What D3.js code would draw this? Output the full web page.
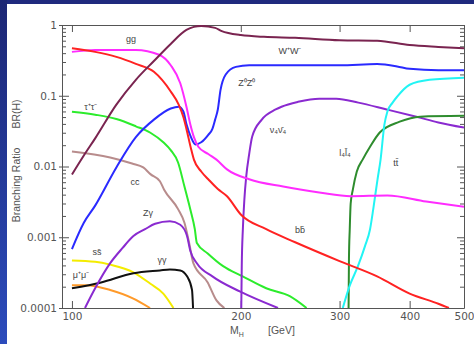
<!DOCTYPE html>
<html>
<head>
<meta charset="utf-8">
<script src="https://cdn.jsdelivr.net/npm/d3@7"></script>
<style>
  body { margin: 0; background: #1d2878; }
  svg { display: block; }
</style>
</head>
<body>
<div id="chart"></div>
<script>
// tick values
const massTicks = [100, 200, 300, 400, 500];
const brTicks = [0.0001, 0.001, 0.01, 0.1, 1];
const brTickLabels = ["0.0001", "0.001", "0.01", "0.1", "1"];

// branching ratios, [M_H in GeV, BR]
const bb = [[100,0.47],[110,0.417],[120,0.354],[130,0.282],[140,0.218],[150,0.115],[155,0.075],[158,0.05],[160,0.034],[163,0.018],[165,0.0125],[170,0.0085],[175,0.0066],[182,0.0048],[189,0.0038],[200,0.0021],[222,0.0013],[250,0.00085],[300,0.00046],[350,0.00028],[400,0.00016],[450,0.000115],[470,0.0001]];
const gg = [[100,0.417],[110,0.445],[120,0.445],[130,0.445],[143,0.38],[150,0.27],[156,0.15],[160,0.07],[162.5,0.04],[165,0.026],[168,0.019],[175,0.015],[181,0.0125],[189,0.0091],[207,0.0066],[238,0.0052],[276,0.0043],[314,0.0038],[365,0.0039],[428,0.0032],[500,0.0027]];
const ww = [[100,0.0077],[105,0.0143],[110,0.025],[120,0.075],[130,0.168],[140,0.31],[150,0.54],[160,0.85],[165,0.94],[170,0.97],[180,0.91],[185,0.82],[190,0.77],[200,0.72],[220,0.68],[250,0.66],[300,0.61],[350,0.6],[400,0.52],[450,0.49],[500,0.47]];
const zz = [[100,0.00068],[105,0.0016],[110,0.0028],[120,0.0097],[130,0.026],[140,0.046],[150,0.066],[155,0.07],[158,0.06],[160,0.04],[163,0.026],[166,0.0205],[170,0.022],[175,0.028],[178,0.034],[180,0.046],[182,0.064],[184,0.12],[188,0.2],[196,0.256],[207,0.27],[300,0.27],[350,0.28],[380,0.26],[400,0.24],[450,0.23],[500,0.23]];
const tautau = [[100,0.0595],[110,0.054],[120,0.047],[130,0.037],[138,0.03],[145.5,0.022],[150,0.017],[154.6,0.0114],[158.7,0.0052],[162.5,0.0025],[165.6,0.0013],[167,0.00083],[174.6,0.00059],[186,0.00039],[201.5,0.00028],[222,0.00019],[245,0.000146],[262,0.0001]];
const cc = [[100,0.0163],[117,0.0134],[128,0.011],[134,0.0097],[138,0.0078],[143.5,0.0062],[146,0.0047],[154.6,0.0025],[158.7,0.0016],[161.8,0.00083],[164.6,0.00043],[174.6,0.00023],[181,0.000128],[187,0.0001]];
const zgamma = [[105.5,0.0001],[110,0.00019],[117,0.00043],[123,0.0007],[128.7,0.00104],[135,0.0013],[140.7,0.00155],[149.5,0.00168],[156,0.0015],[160.4,0.00104],[162.5,0.00065],[167,0.00043],[178,0.00028],[199.6,0.00017],[233,0.0001]];
const ss = [[100,0.00047],[110,0.00045],[117,0.00041],[128.7,0.00032],[138,0.00022],[145.5,0.00016],[151.7,0.0001]];
const gamgam = [[100,0.00019],[112.7,0.00023],[128.7,0.00031],[143.5,0.00034],[149.5,0.00035],[156,0.00034],[160.4,0.00028],[163.7,0.00018],[164.4,0.0001]];
const mumu = [[100,0.00021],[106,0.00021],[117,0.00018],[128.7,0.000136],[137.8,0.0001]];
const nu4 = [[200.4,0.0001],[200.8,0.0004],[201.7,0.0013],[203,0.0035],[204.5,0.0072],[207,0.015],[209.6,0.0265],[218,0.046],[230.8,0.064],[236.4,0.07],[253,0.082],[276,0.091],[296,0.091],[324,0.08],[364,0.064],[413,0.05],[450,0.042],[500,0.0355]];
const l4 = [[311.3,0.0001],[311.8,0.0005],[312.8,0.0013],[314,0.003],[316.8,0.0047],[322,0.0085],[330,0.0126],[340,0.019],[353.8,0.0302],[384,0.043],[417.5,0.0506],[500,0.052]];
const tt = [[304,0.0001],[313,0.00021],[323.5,0.00039],[333,0.00075],[340,0.0013],[344.5,0.0025],[350.6,0.0066],[355,0.0125],[360.6,0.039],[365,0.0595],[373,0.08],[380,0.097],[400,0.143],[434,0.168],[500,0.18]];

// label anchors [text, M_H, BR]
const labels = [
  ["gg", 127.4, 0.576], ["W\u207AW\u207B", 244.7, 0.39], ["Z\u2070Z\u2070", 205, 0.138],
  ["\u03C4\u207A\u03C4\u207B", 108, 0.0635], ["cc\u0304", 129.5, 0.0054], ["Z\u03B3", 136.6, 0.00198],
  ["ss\u0304", 110.8, 0.000557], ["\u03BC\u207A\u03BC\u207B", 103.8, 0.000265], ["\u03B3\u03B3", 144.7, 0.00043],
  ["bb\u0304", 255, 0.00114], ["\u03BD\u2084\u03BD\u0304\u2084", 233, 0.0301], ["l\u2084l\u0304\u2084", 306.7, 0.0143],
  ["tt\u0304", 378, 0.0103]
];

const series = [
  { values: mumu, color: "#ff9a2a" },
  { values: ss, color: "#f4ec00" },
  { values: gamgam, color: "#111111" },
  { values: cc, color: "#b88c8c" },
  { values: zgamma, color: "#8a2ad0" },
  { values: tautau, color: "#2cec2c" },
  { values: nu4, color: "#8a2ad0" },
  { values: l4, color: "#2e8c2e" },
  { values: tt, color: "#22f4f4" },
  { values: zz, color: "#2a2aff" },
  { values: gg, color: "#ff2cff" },
  { values: bb, color: "#ff2222" },
  { values: ww, color: "#7a2450" }
];

const W = 474, H = 344;
const plotLeft = 62, plotRight = 464, plotTop = 25, plotBottom = 308;

const svg = d3.select("#chart").append("svg")
  .attr("width", W).attr("height", H);

const defs = svg.append("defs");
const grad = defs.append("linearGradient").attr("id", "edge")
  .attr("x1", 0).attr("y1", 0).attr("x2", 0).attr("y2", 1);
grad.append("stop").attr("offset", "0%").attr("stop-color", "#1c2674");
grad.append("stop").attr("offset", "100%").attr("stop-color", "#2c4cbc");
defs.append("clipPath").attr("id", "plotclip")
  .append("rect").attr("x", plotLeft).attr("y", plotTop)
  .attr("width", plotRight - plotLeft).attr("height", plotBottom - plotTop);

svg.append("rect").attr("width", W).attr("height", H).attr("fill", "#1f2a7e");
svg.append("rect").attr("width", 7).attr("height", H).attr("fill", "url(#edge)");
svg.append("rect").attr("x", 7).attr("y", 4).attr("width", W - 7).attr("height", H - 4).attr("fill", "#fff");

const x = d3.scaleLog().domain([96, 500]).range([plotLeft, plotRight]);
const y = d3.scaleLog().domain([0.0001, 1]).range([plotBottom, plotTop]);

const minor = [];
for (let e = -4; e < 0; e++) for (let k = 2; k <= 9; k++) minor.push(k * Math.pow(10, e));

const axisColor = "#555";
function styleAxis(g) {
  g.selectAll("path, line").attr("stroke", axisColor);
  g.selectAll("text").attr("fill", "#555")
    .style("font-family", "'DejaVu Sans', sans-serif").style("font-size", "10.5px");
}

// left axis, labels and outward stubs
svg.append("g").attr("transform", `translate(${plotLeft},0)`)
  .call(d3.axisLeft(y).tickValues(brTicks).tickFormat((d, i) => brTickLabels[i])
    .tickSizeInner(3).tickSizeOuter(0).tickPadding(2))
  .call(styleAxis);
// inward major and minor ticks on left and right
svg.append("g").attr("transform", `translate(${plotLeft},0)`)
  .call(d3.axisRight(y).tickValues(brTicks).tickFormat("").tickSize(7))
  .call(g => g.select(".domain").remove()).call(styleAxis);
svg.append("g").attr("transform", `translate(${plotLeft},0)`)
  .call(d3.axisRight(y).tickValues(minor).tickFormat("").tickSize(4))
  .call(g => g.select(".domain").remove()).call(styleAxis);
svg.append("g").attr("transform", `translate(${plotRight},0)`)
  .call(d3.axisLeft(y).tickValues(brTicks).tickFormat("").tickSizeInner(7).tickSizeOuter(0))
  .call(styleAxis);
svg.append("g").attr("transform", `translate(${plotRight},0)`)
  .call(d3.axisLeft(y).tickValues(minor).tickFormat("").tickSize(4))
  .call(g => g.select(".domain").remove()).call(styleAxis);

// bottom and top axes
svg.append("g").attr("transform", `translate(0,${plotBottom})`)
  .call(d3.axisBottom(x).tickValues(massTicks).tickFormat(d3.format("d"))
    .tickSizeInner(-7).tickSizeOuter(0).tickPadding(5))
  .call(styleAxis);
svg.append("g").attr("transform", `translate(0,${plotTop})`)
  .call(d3.axisTop(x).tickValues(massTicks).tickFormat("")
    .tickSizeInner(-7).tickSizeOuter(0))
  .call(styleAxis);

const line = d3.line()
  .x(d => x(d[0]))
  .y(d => y(d[1]))
  .curve(d3.curveMonotoneX);

svg.append("g").attr("clip-path", "url(#plotclip)")
  .selectAll("path").data(series).join("path")
  .attr("fill", "none")
  .attr("stroke", d => d.color)
  .attr("stroke-width", 2)
  .attr("d", d => line(d.values));

svg.append("g").selectAll("text").data(labels).join("text")
  .attr("x", d => x(d[1]))
  .attr("y", d => y(d[2]))
  .attr("text-anchor", "middle")
  .attr("fill", "#444")
  .style("font-family", "'Liberation Sans', Arial, sans-serif")
  .style("font-size", "9px")
  .text(d => d[0]);

// axis titles
const title = svg.append("g").attr("fill", "#555")
  .style("font-family", "'Liberation Sans', Arial, sans-serif").style("font-size", "10.5px");
title.append("text").attr("transform", "translate(20,185)rotate(-90)")
  .attr("text-anchor", "middle").text("Branching Ratio");
title.append("text").attr("transform", "translate(20,114)rotate(-90)")
  .attr("text-anchor", "middle").text("BR(H)");
const mh = title.append("text").attr("x", 230).attr("y", 334);
mh.append("tspan").text("M");
mh.append("tspan").attr("dy", 3).style("font-size", "7px").text("H");
title.append("text").attr("x", 268).attr("y", 334).text("[GeV]");
</script>
</body>
</html>
